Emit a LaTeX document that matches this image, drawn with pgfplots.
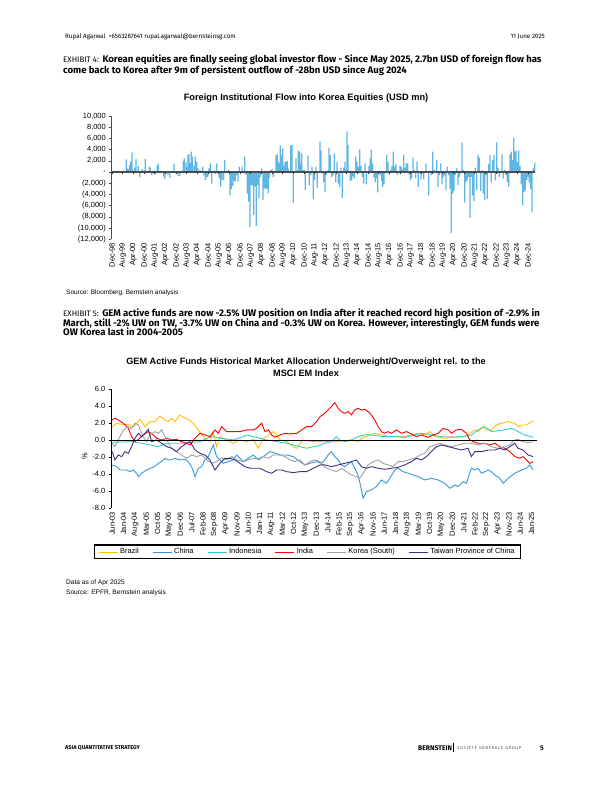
\documentclass[border=0pt]{standalone}
\usepackage{fontspec}
\setmainfont{Liberation Sans}
\newfontfamily\bodyfont{Fira Sans}
\usepackage{pgfplots}
\pgfplotsset{compat=1.18}
\definecolor{barblue}{RGB}{95,182,228}
\definecolor{brazil}{RGB}{255,192,0}
\definecolor{china}{RGB}{51,153,219}
\definecolor{indo}{RGB}{51,204,204}
\definecolor{india}{RGB}{255,0,0}
\definecolor{korea}{RGB}{160,160,160}
\definecolor{taiwan}{RGB}{64,48,128}
\begin{document}
\begin{tikzpicture}[x=1bp,y=1bp]
\path[use as bounding box] (0,0) rectangle (612,792);
% header
\node[anchor=base west, inner sep=0, font=\bodyfont\fontsize{6.3}{7}\selectfont] at (65,792-38.5) {Rupal Agarwal\enspace +6563287641 rupal.agarwal@bernsteinsg.com};
\node[anchor=base east, inner sep=0, font=\bodyfont\fontsize{6.3}{7}\selectfont] at (545,792-38.5) {11 June 2025};
% exhibit 4
\node[anchor=base west, inner sep=0, font=\bodyfont\fontsize{9.6}{10}\selectfont] at (63,792-62.5) {{\fontsize{8}{9}\selectfont EXHIBIT 4:} \textbf{Korean equities are finally seeing global investor flow - Since May 2025, 2.7bn USD of foreign flow has}};
\node[anchor=base west, inner sep=0, font=\bodyfont\fontsize{9.6}{10}\selectfont] at (63,792-74) {\textbf{come back to Korea after 9m of persistent outflow of -28bn USD since Aug 2024}};
\node[anchor=base, inner sep=0, font=\bfseries\fontsize{9.3}{10}\selectfont] at (306,792-101) {Foreign Institutional Flow into Korea Equities (USD mn)};
\node[anchor=base west, inner sep=0, font=\fontsize{6.5}{7}\selectfont] at (66,792-294.5) {Source: Bloomberg, Bernstein analysis};
% exhibit 5
\node[anchor=base west, inner sep=0, font=\bodyfont\fontsize{9.6}{10}\selectfont] at (63,792-316.5) {{\fontsize{8}{9}\selectfont EXHIBIT 5:} \textbf{GEM active funds are now -2.5\% UW position on India after it reached record high position of -2.9\% in}};
\node[anchor=base west, inner sep=0, font=\bodyfont\fontsize{9.6}{10}\selectfont] at (63,792-326.5) {\textbf{March, still -2\% UW on TW, -3.7\% UW on China and -0.3\% UW on Korea. However, interestingly, GEM funds were}};
\node[anchor=base west, inner sep=0, font=\bodyfont\fontsize{9.6}{10}\selectfont] at (63,792-336) {\textbf{OW Korea last in 2004-2005}};
\node[anchor=base, inner sep=0, font=\bfseries\fontsize{9.2}{10}\selectfont] at (306,792-365) {GEM Active Funds Historical Market Allocation Underweight/Overweight rel. to the};
\node[anchor=base, inner sep=0, font=\bfseries\fontsize{9.2}{10}\selectfont] at (306,792-376.5) {MSCI EM Index};
\node[anchor=base west, inner sep=0, font=\fontsize{6.6}{7}\selectfont] at (66,792-585) {Data as of Apr 2025};
\node[anchor=base west, inner sep=0, font=\fontsize{6.6}{7}\selectfont] at (66,792-595) {Source: EPFR, Bernstein analysis};
% footer
\node[anchor=base west, inner sep=0, font=\bodyfont\bfseries\fontsize{5.6}{6}\selectfont] at (65,792-750) {ASIA QUANTITATIVE STRATEGY};
\node[anchor=base west, inner sep=0, font=\bodyfont\bfseries\fontsize{6.8}{7}\selectfont] at (418,792-750.5) {BERNSTEIN};
\draw[line width=0.4bp] (453.5,792-743.5) -- (453.5,792-752.5);
\node[anchor=base west, inner sep=0, font=\bodyfont\fontsize{4.2}{5}\selectfont, text=black!70] at (457,792-750) {S\,O\,C\,I\,É\,T\,É\ \ G\,É\,N\,É\,R\,A\,L\,E\ \ G\,R\,O\,U\,P};
\node[anchor=base west, inner sep=0, font=\bodyfont\bfseries\fontsize{6.8}{7}\selectfont] at (540,792-750.5) {5};

% ---------------- chart 1 ----------------
\begin{axis}[
  at={(111bp,552.7bp)}, anchor=south west,
  scale only axis, width=424bp, height=123.3bp,
  xmin=-0.75, xmax=317.25, ymin=-12000, ymax=10000,
  scaled y ticks=false,
  axis y line*=left, axis x line*=bottom,
  x axis line style={draw=none},
  y axis line style={draw=black!70, line width=0.9bp},
  xtick={0,8,...,312},
  xticklabels={Dec-98,Aug-99,Apr-00,Dec-00,Aug-01,Apr-02,Dec-02,Aug-03,Apr-04,Dec-04,Aug-05,Apr-06,Dec-06,Aug-07,Apr-08,Dec-08,Aug-09,Apr-10,Dec-10,Aug-11,Apr-12,Dec-12,Aug-13,Apr-14,Dec-14,Aug-15,Apr-16,Dec-16,Aug-17,Apr-18,Dec-18,Aug-19,Apr-20,Dec-20,Aug-21,Apr-22,Dec-22,Aug-23,Apr-24,Dec-24},
  xtick style={draw=none},
  xticklabel style={rotate=90, anchor=east, font=\fontsize{7.5}{8}\selectfont, inner sep=1bp},
  ytick={-12000,-10000,...,10000},
  yticklabels={{(12,000)},{(10,000)},{(8,000)},{(6,000)},{(4,000)},{(2,000)},{-},{2,000},{4,000},{6,000},{8,000},{10,000}},
  yticklabel style={font=\fontsize{7.5}{8}\selectfont, inner sep=2.5bp},
  ytick style={draw=black!70, line width=0.6bp},
  tick align=outside, major tick length=2.5bp,
  ybar, bar width=0.9, bar shift=0pt,
  clip=false,
]
\addplot[fill=barblue, draw=none] coordinates {
(10.75,2280)(11.5,650)(12.5,500)(13.25,1250)(14,1850)(15,3500)(15.75,300)(17,800)(18,2300)(19,200)(19.75,1100)(20.75,-850)(21.75,-250)(22.75,500)(23.75,250)(25,2300)(26,-100)(28,950)(28.75,800)(29.75,-550)(30.75,-250)(31.75,300)(32.5,-400)(34,1150)(34.75,1500)(35.75,-200)(37,200)(38.75,-800)(39.5,-1250)(40.75,-250)(42,-550)(43.5,-1100)(45.25,100)(46.5,1550)(47.75,-250)(49.5,-700)(50.75,-700)(52.5,200)(53.5,2000)(54.25,2450)(55.5,1750)(56.25,900)(57,3050)(57.75,3200)(58.5,1600)(59.5,3650)(60.25,2750)(61.5,1150)(62.5,2750)(63.5,1850)(64.5,650)(66,350)(67,200)(68,950)(69,-550)(70,-1450)(71,-950)(71.75,-850)(72.75,650)(73.75,1550)(74.75,-2050)(75.75,100)(76.75,250)(77.5,-350)(78.5,1550)(79.5,100)(80.5,-1150)(81.5,-2650)(82.5,-1450)(83.75,-1450)(84.5,2150)(85.75,100)(86.5,-100)(87.5,450)(88.5,-4100)(89.5,-3050)(90.5,-2450)(91.5,-1600)(92.5,-1700)(93.5,-550)(94.5,-1700)(95.5,950)(96.5,100)(97.5,950)(98.25,-250)(99.5,2750)(100.25,-400)(101.5,-3850)(102.5,-5300)
(103.5,-9800)(104.25,-2300)(105.25,-2400)(106.25,-7700)(107.25,-2600)(108.25,-9600)(109.25,-2300)(110.25,-4700)(111.25,-900)(112.25,650)(113.25,-5000)(114.25,-2900)(115.25,-3000)(116.25,-2900)(117.25,-3800)(118,-1000)(119,350)(120,550)(121,-850)(122,-100)(123,2950)(124,3150)(124.75,1850)(125.5,1550)(126.25,4750)(127,3050)(128,4200)(128.75,1150)(129.75,1750)(130.5,1850)(131.5,2000)(132.25,500)(133.25,-250)(134,4750)(135,4850)(136,-5500)(137,100)(138,2450)(138.75,200)(139.75,3800)(140.75,3650)(141.5,1550)(142.25,3350)(143.25,350)(144.25,350)(145,-3250)(146,100)(147,2950)(148,-2350)(149,-550)(150,950)(151,-4850)(152,-1450)(153,950)(154,-2800)(155,100)(156,5450)(156.75,3800)(157.75,-250)(158.75,-1750)(159.75,-3550)(160.75,-550)(161.75,250)(162.75,4350)(163.75,3050)(164.75,-850)(165.75,-550)(166.75,3300)(167.75,-1850)(168.75,1750)(169.75,-2050)(170.75,-2650)(171.75,800)(172.75,-4600)(173.75,800)(174.75,1850)(175.5,350)(176.25,7250)(177,4850)(177.75,100)(178.75,-1600)(179.75,-1450)(180.75,-750)(181.75,-1150)(182.75,2750)(183.75,1850)(184.75,950)(185.75,4050)(186.75,1150)(187.75,-850)(188.75,-2050)(189.75,1550)(190.75,-2200)(191.75,100)(192.75,1150)(193.75,2450)(194.5,3950)(195.5,1550)(196.5,-1000)(197.5,-1750)(198.5,-1150)(199.25,-3650)(200.25,-250)(201.25,-550)(202.25,-1600)(203,-2650)(204,-2200)(205,-250)(206,3050)(207,1750)(208,-550)(209,350)(210,1100)
(211,3650)(212,950)(213,1400)(214,-550)(215,-250)(216,1150)(217,950)(218,450)(218.75,3050)(219.75,800)(220.75,1550)(221.75,1550)(222.75,-400)(223.75,-1450)(224.75,-1150)(225.75,2550)(226.75,350)(227.75,-1150)(228.75,1850)(229.75,-2650)(230.75,-250)(231.75,-1250)(232.75,100)(233.75,-1250)(234.75,-100)(235.5,1550)(236.5,-100)(237.5,-4150)(238.5,250)(239.5,-550)(240.5,3650)(241.5,450)(242.5,-100)(243.5,2150)(244.5,-2650)(245.5,-550)(246.5,1550)(247.5,-2200)(248.5,-950)(249.5,-550)(250.5,-3250)(251.5,950)(252.5,-550)(253.5,-2950)(254.5,-10850)(255.5,-3850)(256.5,-3400)(257.5,-550)(258.5,650)(259.5,-2350)(260.5,-850)(261.5,-250)(262.5,5300)(263.5,350)(264.5,-5450)(265.5,-1750)(266.5,-1450)(267.5,-850)(268.5,-8200)(269.5,-850)(270.5,-4150)(271.5,-5200)(272.5,800)(273.5,-3250)(274.5,3050)(275.5,2550)(276.5,-3400)(277.5,350)(278.5,-3850)(279.5,-5000)(280.5,-550)(281.5,-4850)(282.5,1400)(283.5,3050)(284.5,-1850)(285.5,2150)(286.5,3050)(287.5,-1450)(288.5,5300)(289.5,800)(290.5,-850)(291.5,200)(292.5,3150)(293.5,-1150)(294.5,350)(295.5,-550)(296.5,-1750)(297.5,-2650)(298.5,3150)(299.5,3650)(300.5,2150)(301.25,6150)(302,3650)(303,3800)(304,1850)(305,3800)(306,1150)(307,-2200)(308,-5900)(309,-3550)(310,-3250)(311,-1450)(312,-850)(313,-1850)(314,-2950)(315,-7100)(316,650)(317,1700)
};
\draw[black!70, line width=1.2bp] (axis cs:-0.75,0) -- (axis cs:317.25,0);
\pgfplotsinvokeforeach{0,8,...,312}{\draw[black!80, line width=0.6bp] (axis cs:#1,0) -- (axis cs:#1,-420);}
\end{axis}

% ---------------- chart 2 ----------------
\begin{axis}[
  at={(111bp,283.7bp)}, anchor=south west,
  scale only axis, width=426bp, height=119bp,
  xmin=-0.8, xmax=262.3, ymin=-8, ymax=6,
  axis y line*=left, axis x line*=bottom,
  x axis line style={draw=none},
  y axis line style={draw=black, line width=1bp},
  xtick={0,7,...,259},
  xticklabels={Jun-03,Jan-04,Aug-04,Mar-05,Oct-05,May-06,Dec-06,Jul-07,Feb-08,Sep-08,Apr-09,Nov-09,Jun-10,Jan-11,Aug-11,Mar-12,Oct-12,May-13,Dec-13,Jul-14,Feb-15,Sep-15,Apr-16,Nov-16,Jun-17,Jan-18,Aug-18,Mar-19,Oct-19,May-20,Dec-20,Jul-21,Feb-22,Sep-22,Apr-23,Nov-23,Jun-24,Jan-25},
  xtick style={draw=none},
  xticklabel style={rotate=90, anchor=east, font=\fontsize{7.5}{8}\selectfont, inner sep=1bp},
  ytick={-8,-6,...,6},
  yticklabels={-8.0,-6.0,-4.0,-2.0,0.0,2.0,4.0,6.0},
  yticklabel style={font=\fontsize{7.5}{8}\selectfont, inner sep=3bp},
  ytick style={draw=black, line width=0.6bp},
  tick align=outside, major tick length=2.5bp,
  ylabel={\%}, ylabel style={font=\fontsize{7.5}{8}\selectfont, rotate=0, at={(axis description cs:-0.047,0.44)}, anchor=south},
  clip=false,
  legend columns=6,
  legend style={at={(0.461,-0.367)}, anchor=center, draw=black, line width=1.1bp, font=\fontsize{7.5}{8}\selectfont, inner xsep=4bp, inner ysep=1.5bp, /tikz/every even column/.append style={column sep=11.5bp}},
  legend image code/.code={\draw[#1, line width=0.9bp] (0bp,0bp) -- (19bp,0bp);},
  every axis plot/.append style={line width=0.9bp},
]
\addplot[brazil] coordinates {(0,1.61)(2.7,2.0)(4.7,1.9)(9.9,1.85)(13.0,1.61)(15.0,2.0)(17.1,2.47)(20.2,1.61)(23.3,2.2)(26.4,2.2)(29.4,2.86)(32.5,2.39)(34.6,2.2)(36.6,2.59)(38.7,2.2)(41.8,2.98)(44.9,2.59)(46.9,2.47)(50.0,2.0)(53.1,1.22)(55.2,0.63)(57.2,0.24)(60.3,-0.16)(62.4,0.9)(64.4,-0.75)(66.5,0.43)(70.6,0.04)(74.7,-0.35)(78.9,0.04)(83.0,-0.16)(87.1,0.12)(90.2,-0.94)(93.3,0.24)(95.3,0.43)(99.4,1.02)(101.5,0.63)(103.6,0.04)(107.7,-0.16)(111.8,-0.75)(113.9,-0.94)(115.9,-0.35)(118.0,0.04)(120.0,-0.04)(124.2,-0.16)(128.3,-0.16)(131.2,-0.16)(137.4,-0.16)(147.7,0.04)(151.8,-0.16)(153.9,0.24)(162.1,0.82)(166.2,0.63)(172.4,0.43)(176.5,0.43)(180.6,0.43)(184.8,0.63)(188.9,0.82)(193.0,0.63)(196.1,1.02)(199.2,0.43)(205.3,0.24)(209.5,0.43)(213.6,0.35)(217.7,0.43)(220.8,0.82)(223.9,1.22)(225.9,1.02)(229.0,1.61)(231.1,1.22)(234.2,1.22)(237.2,1.80)(240.3,2.0)(244.5,2.2)(248.6,2.0)(250.6,1.61)(252.7,1.80)(255.8,1.80)(259.9,2.31)};
\addlegendentry{Brazil}
\addplot[china] coordinates {(0,-2.90)(2.7,-3.10)(4.7,-3.49)(8.9,-3.49)(10.9,-3.69)(13.0,-3.49)(15.0,-3.88)(16.1,-4.27)(18.1,-3.88)(21.2,-3.49)(23.3,-3.29)(25.3,-3.18)(28.4,-2.71)(30.5,-2.51)(32.5,-2.12)(34.6,-2.31)(36.6,-2.31)(38.7,-2.12)(41.8,-2.31)(44.9,-2.24)(46.9,-2.51)(49.0,-3.10)(51.1,-4.27)(53.1,-3.29)(55.2,-3.10)(57.2,-2.31)(59.3,-1.92)(62.4,-0.55)(64.4,-1.92)(66.5,-2.31)(68.6,-2.71)(71.6,-2.51)(74.7,-2.31)(76.8,-1.73)(78.9,-2.12)(80.9,-2.51)(84.0,-2.12)(87.1,-1.73)(90.2,-2.31)(93.3,-1.92)(97.4,-1.33)(100.5,-1.53)(103.6,-1.73)(107.7,-1.73)(111.8,-1.92)(115.9,-2.51)(119.0,-2.90)(122.1,-2.71)(126.2,-2.51)(129.2,-2.71)(131.2,-2.31)(133.3,-1.73)(135.3,-1.33)(137.4,-1.92)(139.5,-2.31)(141.5,-2.90)(143.6,-3.10)(147.7,-2.51)(149.7,-3.29)(151.8,-4.08)(153.9,-5.84)(154.9,-6.82)(157.0,-6.04)(160.0,-5.84)(163.1,-5.45)(166.2,-4.67)(169.3,-5.06)(171.4,-4.47)(174.5,-3.49)(176.5,-3.29)(179.6,-3.69)(182.7,-3.88)(185.8,-4.08)(188.9,-4.27)(193.0,-4.67)(197.1,-4.47)(201.2,-4.67)(205.3,-5.06)(208.4,-5.65)(211.5,-5.25)(213.6,-5.45)(216.7,-4.86)(218.7,-5.06)(221.8,-3.29)(223.9,-3.49)(225.9,-3.29)(228.0,-3.88)(230.0,-3.69)(232.1,-3.49)(234.2,-3.69)(236.2,-4.08)(239.3,-4.47)(241.4,-5.06)(244.5,-4.47)(248.6,-3.88)(252.7,-3.49)(255.8,-3.29)(257.8,-2.90)(259.9,-3.49)};
\addlegendentry{China}
\addplot[indo] coordinates {(0,-0.24)(13.0,-0.16)(23.3,-0.55)(28.4,-0.75)(33.6,-0.35)(43.9,-0.35)(54.1,-0.16)(58.3,0.24)(62.4,0.43)(66.5,0.24)(74.7,0.04)(80.9,0.43)(83.0,0.63)(87.1,0.43)(91.2,0.24)(95.3,0.04)(101.5,-0.16)(107.7,-0.35)(111.8,-0.55)(115.9,-0.75)(120.0,-0.94)(124.2,-0.75)(127.1,-0.67)(131.2,-0.35)(135.3,-0.16)(138.4,0.43)(140.5,0.04)(143.6,-0.16)(147.7,0.04)(151.8,0.43)(155.9,0.63)(160.0,0.63)(164.2,0.51)(168.3,0.43)(174.5,0.43)(180.6,0.35)(186.8,0.63)(190.9,0.82)(197.1,0.63)(203.3,0.43)(209.5,0.35)(215.6,0.43)(221.8,0.63)(225.9,1.22)(230.0,1.61)(234.2,1.02)(238.3,1.14)(242.4,1.22)(246.5,1.41)(250.6,1.02)(254.8,0.63)(259.9,0.35)};
\addlegendentry{Indonesia}
\addplot[india] coordinates {(0,2.39)(1.6,2.59)(3.7,2.39)(6.8,2.0)(9.9,1.41)(11.9,0.43)(14.0,-0.16)(16.1,0.12)(19.1,0.63)(22.2,1.02)(24.3,0.82)(27.4,0.24)(30.5,0.04)(33.6,0.24)(36.6,0.04)(39.7,0.12)(42.8,-0.16)(45.9,-0.35)(48.0,-0.55)(51.1,0.24)(54.1,0.82)(57.2,0.63)(60.3,0.43)(63.4,1.22)(65.5,0.82)(67.5,1.61)(70.6,1.02)(74.7,1.02)(78.9,1.02)(83.0,1.22)(87.1,1.22)(89.1,1.41)(92.2,2.0)(94.3,1.02)(96.4,1.22)(98.4,0.63)(100.5,0.35)(103.6,0.63)(106.7,0.82)(109.7,0.75)(113.9,0.82)(116.9,1.22)(120.0,1.61)(123.1,1.61)(126.2,2.20)(128.3,2.78)(131.2,3.18)(134.3,3.76)(137.4,4.43)(139.5,3.76)(141.5,3.37)(143.6,3.18)(145.6,3.37)(147.7,2.98)(149.7,3.57)(151.8,3.76)(153.9,3.57)(155.9,3.65)(158.0,3.37)(160.0,2.98)(162.1,2.39)(164.2,1.61)(166.2,1.02)(168.3,0.82)(170.3,1.02)(172.4,0.82)(175.5,1.22)(178.6,0.82)(181.7,1.02)(184.8,0.75)(187.8,0.43)(190.9,0.63)(195.0,0.35)(198.1,0.63)(201.2,0.82)(204.3,1.41)(207.4,1.22)(209.5,0.82)(212.5,1.22)(215.6,1.29)(218.7,0.82)(220.8,0.04)(222.8,-0.16)(225.9,-0.35)(230.0,-0.35)(233.1,-0.55)(236.2,-0.35)(239.3,-0.75)(242.4,-0.94)(245.5,-1.33)(248.6,-1.92)(251.7,-2.12)(253.7,-1.92)(255.8,-2.31)(257.8,-2.71)(259.9,-2.51)};
\addlegendentry{India}
\addplot[korea] coordinates {(0,-0.35)(1.6,-0.75)(3.7,0.04)(6.8,1.22)(9.9,1.61)(11.9,1.41)(14.0,2.0)(16.1,1.8)(19.1,0.4)(21.2,-0.16)(23.3,0.63)(26.4,1.02)(28.4,0.82)(30.5,1.22)(33.6,0.04)(36.6,-0.94)(39.7,-1.33)(42.8,-1.73)(45.9,-2.12)(49.0,-1.73)(52.1,-1.92)(55.2,-1.73)(58.3,-2.31)(61.4,-2.71)(64.4,-2.51)(67.5,-2.12)(70.6,-2.31)(73.7,-1.92)(76.8,-2.31)(80.9,-2.51)(84.0,-2.31)(87.1,-2.12)(90.2,-2.12)(93.3,-1.92)(96.4,-2.12)(99.4,-1.73)(103.6,-1.73)(106.7,-1.92)(109.7,-2.31)(112.8,-2.51)(115.9,-2.31)(119.0,-2.90)(122.1,-2.51)(125.2,-2.31)(128.3,-2.51)(131.2,-3.18)(135.3,-3.49)(138.4,-3.69)(141.5,-3.29)(144.6,-3.69)(147.7,-4.08)(150.8,-4.27)(152.8,-4.47)(154.9,-3.88)(158.0,-2.90)(161.1,-2.51)(164.2,-2.31)(167.2,-2.71)(170.3,-2.90)(173.4,-3.10)(176.5,-2.51)(179.6,-2.51)(182.7,-2.31)(186.8,-2.12)(189.9,-1.73)(193.0,-1.53)(196.1,-0.75)(199.2,-0.55)(202.2,-0.35)(205.3,-0.55)(209.5,-0.75)(213.6,-0.55)(217.7,-0.35)(221.8,-0.35)(225.9,-0.55)(230.0,-0.35)(234.2,-0.75)(238.3,-0.94)(242.4,-0.75)(245.5,-0.55)(248.6,0.04)(250.6,0.12)(253.7,-0.16)(256.8,-0.27)(259.9,-0.16)};
\addlegendentry{Korea (South)}
\addplot[taiwan] coordinates {(0,-1.33)(1.6,-2.31)(3.7,-1.73)(5.8,-1.92)(7.8,-1.33)(9.9,-1.53)(11.9,-0.75)(14.0,0.24)(16.1,0.82)(18.1,0.43)(20.2,0.82)(22.2,1.29)(24.3,-0.16)(27.4,0.04)(30.5,-0.35)(33.6,-0.75)(36.6,-0.94)(39.7,-1.33)(42.8,-0.75)(45.9,-0.35)(48.0,-0.16)(51.1,-1.14)(54.1,-1.53)(57.2,-1.73)(60.3,-2.31)(63.4,-3.49)(66.5,-2.71)(69.6,-2.12)(72.7,-2.12)(75.8,-2.31)(78.9,-2.71)(81.9,-3.10)(85.0,-3.29)(88.1,-3.29)(91.2,-3.29)(95.3,-3.69)(98.4,-3.88)(101.5,-3.49)(104.6,-3.49)(107.7,-3.69)(111.8,-3.80)(115.9,-3.69)(120.0,-3.69)(124.2,-3.29)(128.3,-2.90)(131.2,-2.90)(135.3,-3.10)(139.5,-2.90)(143.6,-2.71)(147.7,-2.51)(150.8,-2.31)(153.9,-3.10)(157.0,-3.29)(160.0,-3.10)(164.2,-3.29)(168.3,-3.41)(172.4,-3.29)(176.5,-3.18)(180.6,-2.90)(184.8,-2.51)(187.8,-2.12)(190.9,-2.31)(194.0,-1.92)(197.1,-1.33)(200.2,-0.75)(203.3,-0.55)(207.4,-0.75)(211.5,-0.94)(215.6,-1.14)(219.7,-0.94)(221.8,-1.92)(223.9,-1.33)(228.0,-1.33)(232.1,-1.14)(236.2,-1.14)(239.3,-0.94)(242.4,-1.14)(245.5,-0.75)(248.6,-0.35)(250.6,-0.94)(253.7,-1.14)(256.8,-1.73)(259.9,-1.92)};
\addlegendentry{Taiwan Province of China}
\draw[black, line width=1bp] (axis cs:-0.8,0) -- (axis cs:262.3,0);
\end{axis}
\end{tikzpicture}
\end{document}
